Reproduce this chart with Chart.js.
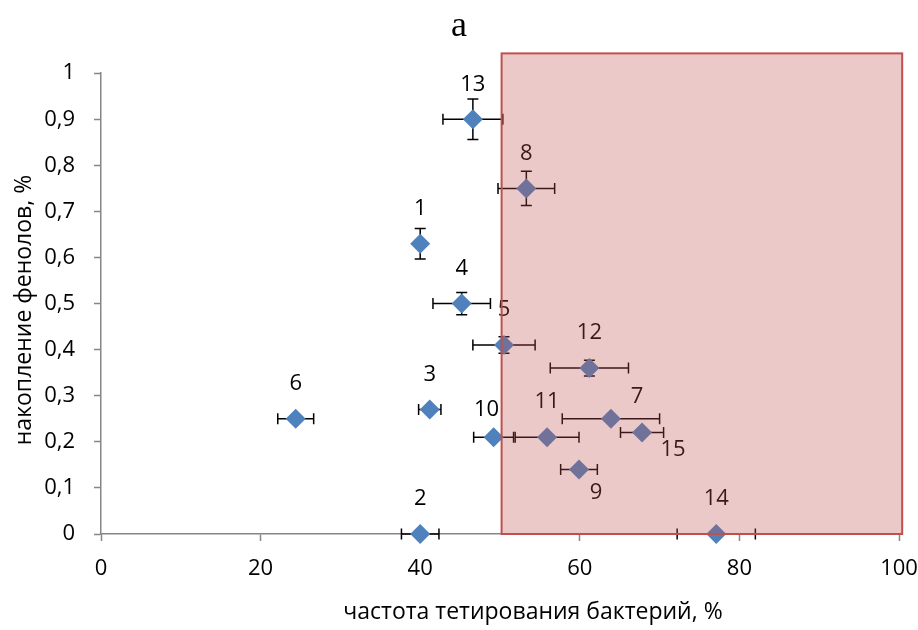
<!DOCTYPE html>
<html>
<head>
<meta charset="utf-8">
<script src="https://cdn.jsdelivr.net/npm/chart.js@4.4.1/dist/chart.umd.min.js"></script>
<style>
  html, body { margin: 0; padding: 0; background: #fff; }
  canvas { display: block; }
</style>
</head>
<body>
<canvas id="grafico" width="918" height="630"></canvas>
<script>
// номера образцов и значения
const rotulos = ['1', '2', '3', '4', '5', '6', '7', '8', '9', '10', '11', '12', '13', '14', '15'];
const frequencia = [40.0, 40.0, 41.2, 45.2, 50.5, 24.4, 63.9, 53.3, 59.9, 49.2, 55.9, 61.2, 46.6, 77.1, 67.8];
const fenois = [0.63, 0, 0.27, 0.50, 0.41, 0.25, 0.25, 0.75, 0.14, 0.21, 0.21, 0.36, 0.90, 0, 0.22];
// erros (±)
const erroX = [0, 2.35, 1.4, 3.6, 3.9, 2.25, 6.1, 3.55, 2.3, 2.5, 4.0, 4.9, 3.75, 4.9, 2.7];
const erroY = [0.033, 0, 0, 0.024, 0.018, 0, 0, 0.037, 0, 0, 0, 0.017, 0.044, 0, 0];
// zona destacada: [xmin, xmax, ymin, ymax]
const zona = [50.2, 100.4, 0, 1.043];

const tituloX = 'частота тетирования бактерий, %';
const tituloY = 'накопление фенолов, %';

const fonte = "'Open Sans', 'Noto Sans', sans-serif";

// deslocamento dos rótulos em relação ao ponto (px)
const deslocRotulo = {
  '7': [26, -22],
  '9': [17, 23],
  '10': [-7, -27],
  '15': [31, 17]
};

const pluginExtras = {
  id: 'extras',
  beforeDatasetsDraw(chart) {
    const ctx = chart.ctx;
    const sx = chart.scales.x, sy = chart.scales.y;
    const cap = 5.5;
    ctx.save();
    ctx.strokeStyle = '#000';
    ctx.lineWidth = 1.5;
    for (let i = 0; i < frequencia.length; i++) {
      const px = sx.getPixelForValue(frequencia[i]);
      const py = sy.getPixelForValue(fenois[i]);
      ctx.beginPath();
      if (erroX[i] > 0) {
        const x1 = sx.getPixelForValue(frequencia[i] - erroX[i]);
        const x2 = sx.getPixelForValue(frequencia[i] + erroX[i]);
        ctx.moveTo(x1, py); ctx.lineTo(x2, py);
        ctx.moveTo(x1, py - cap); ctx.lineTo(x1, py + cap);
        ctx.moveTo(x2, py - cap); ctx.lineTo(x2, py + cap);
      }
      if (erroY[i] > 0) {
        const y1 = sy.getPixelForValue(fenois[i] - erroY[i]);
        const y2 = sy.getPixelForValue(fenois[i] + erroY[i]);
        ctx.moveTo(px, y1); ctx.lineTo(px, y2);
        ctx.moveTo(px - cap, y1); ctx.lineTo(px + cap, y1);
        ctx.moveTo(px - cap, y2); ctx.lineTo(px + cap, y2);
      }
      ctx.stroke();
    }
    ctx.restore();
  },
  afterDatasetsDraw(chart) {
    const ctx = chart.ctx;
    const sx = chart.scales.x, sy = chart.scales.y;
    ctx.save();
    // rótulos dos pontos
    ctx.font = '22px ' + fonte;
    ctx.fillStyle = '#000';
    ctx.textAlign = 'center';
    ctx.textBaseline = 'middle';
    for (let i = 0; i < rotulos.length; i++) {
      const d = deslocRotulo[rotulos[i]] || [0, -35];
      ctx.fillText(rotulos[i], sx.getPixelForValue(frequencia[i]) + d[0], sy.getPixelForValue(fenois[i]) + d[1]);
    }
    // retângulo translúcido por cima
    const x1 = sx.getPixelForValue(zona[0]), x2 = sx.getPixelForValue(zona[1]);
    const y1 = sy.getPixelForValue(zona[3]), y2 = sy.getPixelForValue(zona[2]);
    ctx.fillStyle = 'rgba(192, 80, 77, 0.31)';
    ctx.fillRect(x1, y1, x2 - x1, y2 - y1);
    ctx.strokeStyle = 'rgb(192, 80, 77)';
    ctx.lineWidth = 2;
    ctx.strokeRect(x1, y1, x2 - x1, y2 - y1);
    ctx.restore();
  },
  afterDraw(chart) {
    const ctx = chart.ctx;
    ctx.save();
    ctx.font = '23px ' + fonte;
    ctx.fillStyle = '#000';
    ctx.textAlign = 'center';
    ctx.textBaseline = 'middle';
    ctx.fillText(tituloX, 533, 612);
    ctx.translate(24, 310);
    ctx.rotate(-Math.PI / 2);
    ctx.fillText(tituloY, 0, 0);
    ctx.restore();
  }
};

const pontos = frequencia.map((x, i) => ({x: x, y: fenois[i]}));

new Chart(document.getElementById('grafico'), {
  type: 'scatter',
  data: {
    datasets: [{
      label: 'образцы',
      data: pontos,
      pointStyle: 'rectRot',
      pointRadius: 10,
      pointHoverRadius: 10,
      pointBackgroundColor: '#4F81BD',
      pointBorderWidth: 0,
      pointBorderColor: '#4F81BD',
      clip: false
    }]
  },
  options: {
    responsive: false,
    animation: false,
    events: [],
    layout: { padding: { left: 0, right: 0, top: 0, bottom: 0 } },
    scales: {
      x: {
        type: 'linear',
        min: 0,
        max: 100,
        afterFit: s => { s.height = 96; s.paddingRight = 19; },
        ticks: { stepSize: 20, padding: 15, color: '#000', font: { family: fonte, size: 22 } },
        grid: { drawOnChartArea: false, color: '#868686', tickLength: 7, tickWidth: 1.5 },
        border: { color: '#868686', width: 1.5 }
      },
      y: {
        type: 'linear',
        min: 0,
        max: 1,
        afterFit: s => { s.width = 101; },
        ticks: {
          stepSize: 0.1,
          padding: 19,
          color: '#000',
          font: { family: fonte, size: 22 },
          callback: v => {
            const r = Math.round(v * 10) / 10;
            return (r === 0 || r === 1) ? String(r) : r.toFixed(1).replace('.', ',');
          }
        },
        grid: { drawOnChartArea: false, color: '#868686', tickLength: 7, tickWidth: 1.5 },
        border: { color: '#868686', width: 1.5 }
      }
    },
    plugins: {
      legend: { display: false },
      tooltip: { enabled: false },
      title: {
        display: true,
        text: 'а',
        color: '#000',
        font: { family: "'Liberation Serif', 'DejaVu Serif', serif", size: 36, weight: 'normal' },
        padding: { top: 5, bottom: 25 }
      }
    }
  },
  plugins: [pluginExtras]
});
</script>
</body>
</html>
